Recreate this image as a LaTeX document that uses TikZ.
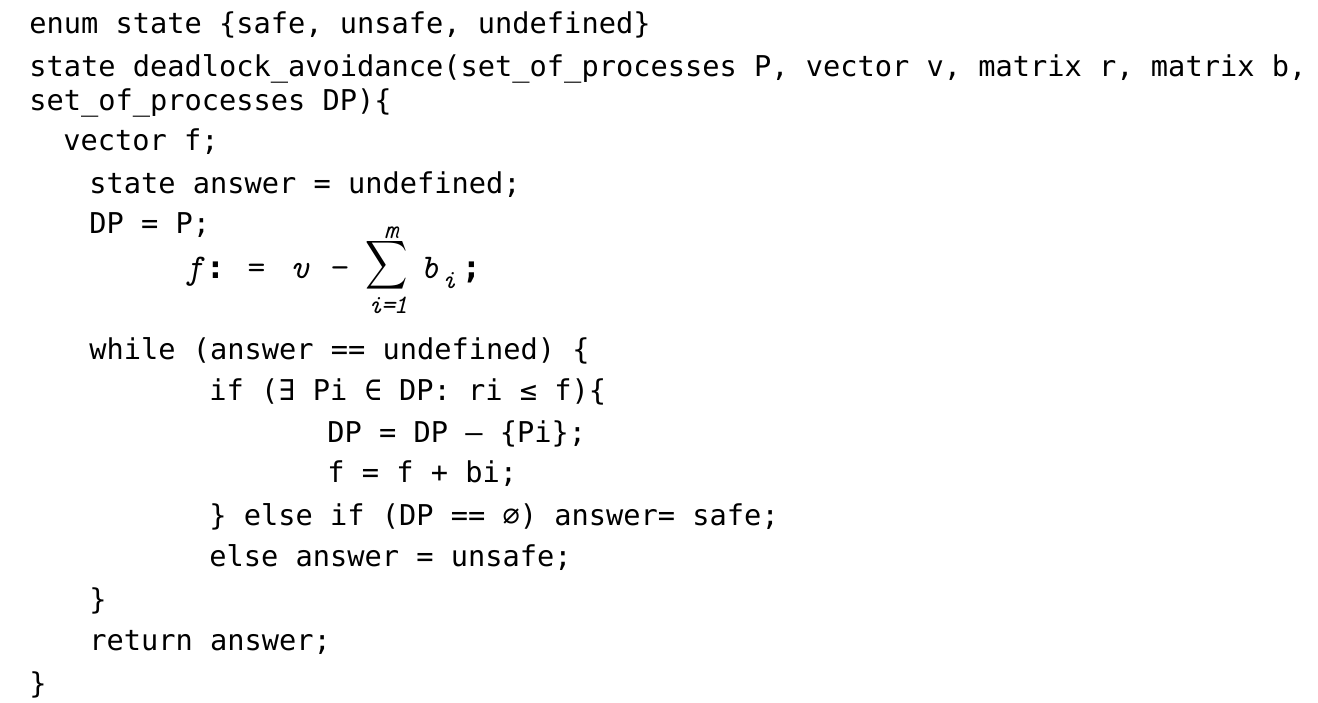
\documentclass[tikz,border=0pt]{standalone}
\usepackage{fontspec}
\newfontfamily\codefont{DejaVu Sans Mono}
\tikzset{
  code/.style={anchor=base west, inner sep=0pt, font=\codefont\fontsize{21.5pt}{21.5pt}\selectfont, text=black},
  fml/.style={anchor=base, inner sep=0pt, font=\ttfamily\itshape\fontsize{26pt}{26pt}\selectfont, text=black},
  fmlup/.style={anchor=base, inner sep=0pt, font=\ttfamily\fontsize{26pt}{26pt}\selectfont, text=black},
  fmlbold/.style={anchor=base, inner sep=0pt, font=\codefont\bfseries\fontsize{24pt}{24pt}\selectfont, text=black},
  fmlsmall/.style={anchor=base, inner sep=0pt, font=\ttfamily\itshape\fontsize{20pt}{20pt}\selectfont, text=black},
}
\begin{document}
\begin{tikzpicture}[x=0.75pt,y=-0.75pt]
\path[fill=white] (0,0) rectangle (1318,703);
\useasboundingbox (0,0) rectangle (1318,703);
\node[code] (l1) at (29,33.5) {enum state \{safe, unsafe, undefined\}};
\node[code] (l2) at (29,76) {state deadlock\_avoidance(set\_of\_processes P, vector v, matrix r, matrix b,};
\node[code] (l3) at (29,110) {set\_of\_processes DP)\{};
\node[code] (l4) at (63,150) {vector f;};
\node[code] (l5) at (89,193) {state answer = undefined;};
\node[code] (l6) at (89,233) {DP = P;};
% formula
\node[fml] (ff) at (194,278) {f};
\node[fmlbold] (fc) at (215.5,278) {:};
\node[fmlup] (fe) at (256.5,278) {=};
\node[fml] (fv) at (300,278) {v};
\node[fmlup] (fm) at (340,278) {−};
\node[inner sep=0pt] (fs) at (386.5,265) {\scalebox{2.2}[2.55]{$\displaystyle\sum$}};
\node[fmlsmall, text height=8pt, text depth=0pt] (fup) at (391,238) {m};
\node[fmlsmall] (flo) at (388,313) {i\kern-1pt=\kern-1pt1};
\node[fml] (fb) at (430,278) {b};
\node[fmlsmall] (fi) at (449,288) {i};
\node[fmlbold] (fsc) at (471.5,278) {;};
% rest
\node[code] (l8) at (89,359) {while (answer == undefined) \{};
\node[code] (l9) at (209,400) {if (∃ Pi ∈ DP: ri ≤ f)\{};
\node[code] (l10) at (327,442) {DP = DP – \{Pi\};};
\node[code] (l11) at (327,482) {f = f + bi;};
\node[code] (l12) at (209,525) {\} else if (DP == ∅) answer= safe;};
\node[code] (l13) at (209,566) {else answer = unsafe;};
\node[code] (l14) at (89,609) {\}};
\node[code] (l15) at (89,650) {return answer;};
\node[code] (l16) at (29,693) {\}};
\end{tikzpicture}
\end{document}
